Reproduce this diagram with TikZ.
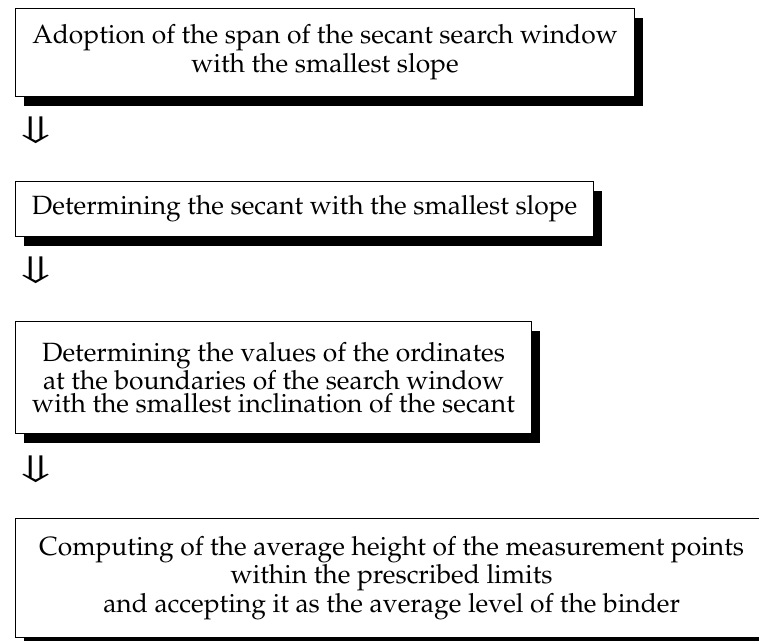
\documentclass[tikz,border=0pt]{standalone}
\usepackage[T1]{fontenc}
\usepackage{pxfonts}
\usetikzlibrary{shadows}

\begin{document}
\begin{tikzpicture}[x=0.4167pt, y=-0.4167pt,
    stage/.style={draw, fill=white, line width=0.5pt, align=center,
        anchor=north west, inner sep=0pt, font=\fontsize{11}{9.5}\selectfont,
        drop shadow={shadow xshift=3.5pt, shadow yshift=-4pt, fill=black, opacity=1}},
    flow/.style={inner sep=0pt, font=\fontsize{11}{13}\selectfont}]
\useasboundingbox (0,0) rectangle (759,641);

% the stages
\node (span) [stage, minimum width=257.9pt, minimum height=36.7pt] at (15,8)
    {Adoption of the span of the secant search window\\ with the smallest slope};
\node (secant) [stage, minimum width=240.9pt, minimum height=22.9pt] at (15,181)
    {Determining the secant with the smallest slope};
\node (ordinates) [stage, minimum width=215pt, minimum height=46.7pt] at (15,321)
    {Determining the values of the ordinates\\ at the boundaries of the search window\\
     with the smallest inclination of the secant};
\node (average) [stage, minimum width=313.4pt, minimum height=49.6pt,
    font=\fontsize{11}{10.6}\selectfont] at (15,518)
    {Computing of the average height of the measurement points\\ within the prescribed limits\\
     and accepting it as the average level of the binder};

% the arrows between them
\foreach \name/\y in {down1/130, down2/270, down3/469}
    \node (\name) [flow] at (36,\y) {\scalebox{1.9}[1.15]{$\Downarrow$}};

\end{tikzpicture}
\end{document}
